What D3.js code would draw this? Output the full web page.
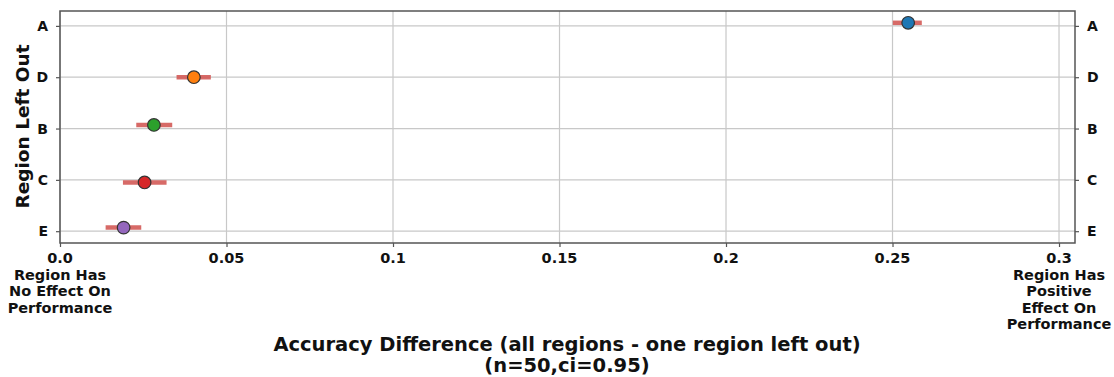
<!DOCTYPE html>
<html>
<head>
<meta charset="utf-8">
<script src="https://cdn.jsdelivr.net/npm/d3@7"></script>
<style>
  body { margin: 0; background: #fff; }
  svg text { font-family: "DejaVu Sans", sans-serif; font-weight: bold; fill: #111; }
</style>
</head>
<body>
<svg id="chart" width="1114" height="377"></svg>
<script>
// Regions, top to bottom
const regions = ["A", "D", "B", "C", "E"];
// Mean accuracy difference and 95% CI bounds
const means = [0.2547, 0.0402, 0.0282, 0.0254, 0.0191];
const ciLow = [0.2501, 0.0350, 0.0229, 0.0189, 0.0137];
const ciHigh = [0.2588, 0.0453, 0.0337, 0.0320, 0.0244];
// Small vertical jitter of each point (category units)
const jitter = [-0.06, 0.0, -0.07, 0.05, -0.07];
const colors = ["#1f77b4", "#ff7f0e", "#2ca02c", "#d62728", "#9467bd"];
const xTicks = [0, 0.05, 0.1, 0.15, 0.2, 0.25, 0.3];
const xTickLabels = ["0.0", "0.05", "0.1", "0.15", "0.2", "0.25", "0.3"];
const leftNote = ["Region Has", "No Effect On", "Performance"];
const rightNote = ["Region Has", "Positive", "Effect On", "Performance"];
const xTitle = ["Accuracy Difference (all regions - one region left out)", "(n=50,ci=0.95)"];
const yTitle = "Region Left Out";

const svg = d3.select("#chart");
const plot = { left: 60, right: 1075, top: 11, bottom: 243 };

const x = d3.scaleLinear().domain([0, 0.3048]).range([plot.left, plot.right]);
// index 0 (A) at top
const y = d3.scaleLinear().domain([-0.29, 4.23]).range([plot.top, plot.bottom]);

// gridlines
const grid = svg.append("g");
grid.selectAll("line.v").data(xTicks).join("line")
  .attr("x1", d => x(d)).attr("x2", d => x(d))
  .attr("y1", plot.top).attr("y2", plot.bottom)
  .attr("stroke", "#c8c8c8").attr("stroke-width", 1.2);
grid.selectAll("line.h").data(regions).join("line")
  .attr("x1", plot.left).attr("x2", plot.right)
  .attr("y1", (d, i) => y(i)).attr("y2", (d, i) => y(i))
  .attr("stroke", "#c8c8c8").attr("stroke-width", 1.2);

// axes
const xAxis = d3.axisBottom(x).tickValues(xTicks).tickSize(4).tickFormat("");
const gx = svg.append("g").attr("transform", `translate(0,${plot.bottom})`).call(xAxis);
gx.select(".domain").remove();
gx.selectAll(".tick line").attr("stroke", "#555").attr("stroke-width", 1.2);

const yPos = d3.scalePoint().domain(regions).range([y(0), y(4)]);
const gyL = svg.append("g").attr("transform", `translate(${plot.left},0)`)
  .call(d3.axisLeft(yPos).tickSize(4).tickPadding(8));
const gyR = svg.append("g").attr("transform", `translate(${plot.right},0)`)
  .call(d3.axisRight(yPos).tickSize(4).tickPadding(8));
[gyL, gyR].forEach(g => {
  g.select(".domain").remove();
  g.selectAll(".tick line").attr("stroke", "#555").attr("stroke-width", 1.2);
  g.selectAll(".tick text").style("font-size", "14px").style("font-family", "DejaVu Sans")
    .style("font-weight", "bold").attr("fill", "#111");
});

// x tick labels (multi-line at the ends)
const xl = svg.append("g").style("font-size", "14.5px").attr("text-anchor", "middle");
xTicks.forEach((t, i) => {
  const lines = [xTickLabels[i]].concat(i === 0 ? leftNote : i === xTicks.length - 1 ? rightNote : []);
  const txt = xl.append("text").attr("x", x(t)).attr("y", plot.bottom + 20);
  lines.forEach((s, j) => txt.append("tspan").attr("x", x(t)).attr("dy", j === 0 ? 0 : 16.5).text(s));
});

// frame
svg.append("rect")
  .attr("x", plot.left).attr("y", plot.top)
  .attr("width", plot.right - plot.left).attr("height", plot.bottom - plot.top)
  .attr("fill", "none").attr("stroke", "#555").attr("stroke-width", 1.5);

// confidence intervals
svg.append("g").selectAll("line").data(regions).join("line")
  .attr("x1", (d, i) => x(ciLow[i])).attr("x2", (d, i) => x(ciHigh[i]))
  .attr("y1", (d, i) => y(i + jitter[i])).attr("y2", (d, i) => y(i + jitter[i]))
  .attr("stroke", "#d35a57").attr("stroke-opacity", 0.9).attr("stroke-width", 4.5);

// mean points
svg.append("g").selectAll("circle").data(regions).join("circle")
  .attr("cx", (d, i) => x(means[i])).attr("cy", (d, i) => y(i + jitter[i]))
  .attr("r", 6.3)
  .attr("fill", (d, i) => colors[i])
  .attr("stroke", "#333").attr("stroke-width", 1.2);

// titles
const xt = svg.append("text").attr("text-anchor", "middle").style("font-size", "19.5px");
xTitle.forEach((s, j) => xt.append("tspan").attr("x", 567).attr("y", 351 + j * 21).text(s));

svg.append("text").attr("text-anchor", "middle").style("font-size", "18.5px")
  .attr("transform", `translate(28.5,126.5) rotate(-90)`)
  .text(yTitle);
</script>
</body>
</html>
